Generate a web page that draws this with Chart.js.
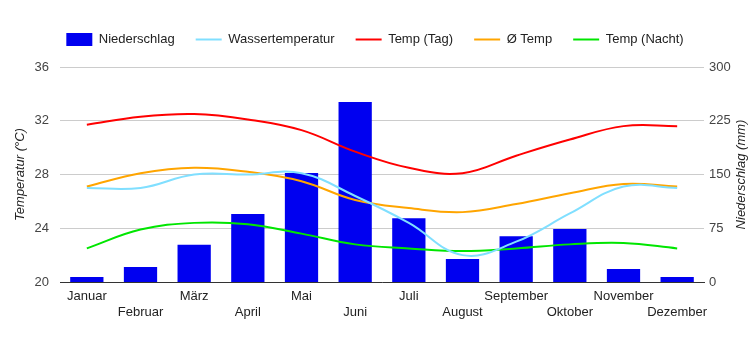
<!DOCTYPE html>
<html>
<head>
<meta charset="utf-8">
<script src="https://cdn.jsdelivr.net/npm/chart.js@4"></script>
<style>
  html, body { margin: 0; padding: 0; background: #fff; }
  #wrap { width: 750px; height: 350px; }
</style>
</head>
<body>
<div id="wrap"><canvas id="klima"></canvas></div>
<script>
const months = ['Januar', 'Februar', 'März', 'April', 'Mai', 'Juni', 'Juli', 'August', 'September', 'Oktober', 'November', 'Dezember'];
const niederschlag = [7, 21, 52, 95, 152, 251, 89, 32, 64, 74, 18, 7];
const wasserTemp = [27.0, 27.0, 28.0, 28.0, 28.1, 26.4, 24.4, 22.0, 23.0, 25.1, 27.1, 27.0];
const tempTag = [31.7, 32.3, 32.5, 32.1, 31.3, 29.7, 28.5, 28.1, 29.4, 30.6, 31.6, 31.6];
const tempMittel = [27.1, 28.1, 28.5, 28.2, 27.5, 26.1, 25.5, 25.2, 25.8, 26.6, 27.3, 27.1];
const tempNacht = [22.5, 23.9, 24.4, 24.3, 23.6, 22.8, 22.5, 22.3, 22.5, 22.8, 22.9, 22.5];

const tempTicks = [20, 24, 28, 32, 36];
const rainTicks = [0, 75, 150, 225, 300];

const FONT = '"Liberation Sans", Arial, sans-serif';
Chart.defaults.font.family = FONT;
Chart.defaults.font.size = 13;
Chart.defaults.color = '#222';

function line(label, data, color) {
  return {
    type: 'line',
    label,
    data,
    yAxisID: 'y',
    borderColor: color,
    backgroundColor: color,
    borderWidth: 2,
    pointRadius: 0,
    tension: 0.4,
    pointStyle: 'line',
    order: 1,
  };
}

// axis titles, both read bottom to top
const axisTitles = {
  id: 'axisTitles',
  afterDraw(chart) {
    const {ctx, chartArea} = chart;
    const mid = (chartArea.top + chartArea.bottom) / 2;
    ctx.save();
    ctx.font = 'italic 13px ' + FONT;
    ctx.fillStyle = '#222';
    ctx.textAlign = 'center';
    ctx.textBaseline = 'middle';
    [[20, 'Temperatur (°C)'], [741, 'Niederschlag (mm)']].forEach(([x, text]) => {
      ctx.save();
      ctx.translate(x, mid);
      ctx.rotate(-Math.PI / 2);
      ctx.fillText(text, 0, 0);
      ctx.restore();
    });
    ctx.restore();
  }
};

// a bit more room under the legend
const legendGap = {
  id: 'legendGap',
  beforeLayout(chart) {
    const lg = chart.legend;
    if (lg && !lg._gap) {
      const fit = lg.fit;
      lg.fit = function () {
        fit.call(this);
        this.height += 11;
      };
      lg._gap = true;
    }
  }
};

new Chart(document.getElementById('klima'), {
  data: {
    labels: months,
    datasets: [
      {
        type: 'bar',
        label: 'Niederschlag',
        data: niederschlag,
        yAxisID: 'y1',
        backgroundColor: '#0000f0',
        barPercentage: 0.62,
        categoryPercentage: 1,
        pointStyle: 'rect',
        order: 2,
      },
      line('Wassertemperatur', wasserTemp, '#80dfff'),
      line('Temp (Tag)', tempTag, '#ff0000'),
      line('Ø Temp', tempMittel, '#ffa500'),
      line('Temp (Nacht)', tempNacht, '#00e600'),
    ]
  },
  plugins: [axisTitles, legendGap],
  options: {
    responsive: true,
    maintainAspectRatio: false,
    animation: false,
    layout: {
      padding: { top: 12, right: 0, bottom: 0, left: 0 }
    },
    plugins: {
      legend: {
        position: 'top',
        labels: {
          usePointStyle: true,
          pointStyleWidth: 26,
          boxHeight: 13,
          padding: 21,
          color: '#222',
          font: { size: 13 },
          sort: (a, b) => a.datasetIndex - b.datasetIndex,
        }
      },
      tooltip: { enabled: false }
    },
    scales: {
      x: {
        afterFit: s => { s.height = 68; },
        grid: { display: false, drawTicks: false },
        border: { color: '#333' },
        ticks: {
          autoSkip: false,
          maxRotation: 0,
          padding: 7,
          color: '#222',
          callback: (v, i) => (i % 2 ? ['', months[i]] : months[i])
        }
      },
      y: {
        position: 'left',
        min: 20,
        max: 36,
        afterBuildTicks: s => { s.ticks = tempTicks.map(value => ({ value })); },
        afterFit: s => { s.width = 60; },
        grid: { color: '#ccc', drawTicks: false },
        border: { display: false },
        ticks: { padding: 11, color: '#444' },
      },
      y1: {
        position: 'right',
        min: 0,
        max: 300,
        afterBuildTicks: s => { s.ticks = rainTicks.map(value => ({ value })); },
        afterFit: s => { s.width = 46; },
        grid: { display: false, drawTicks: false },
        border: { display: false },
        ticks: { padding: 5, color: '#444' },
      }
    }
  }
});
</script>
</body>
</html>
